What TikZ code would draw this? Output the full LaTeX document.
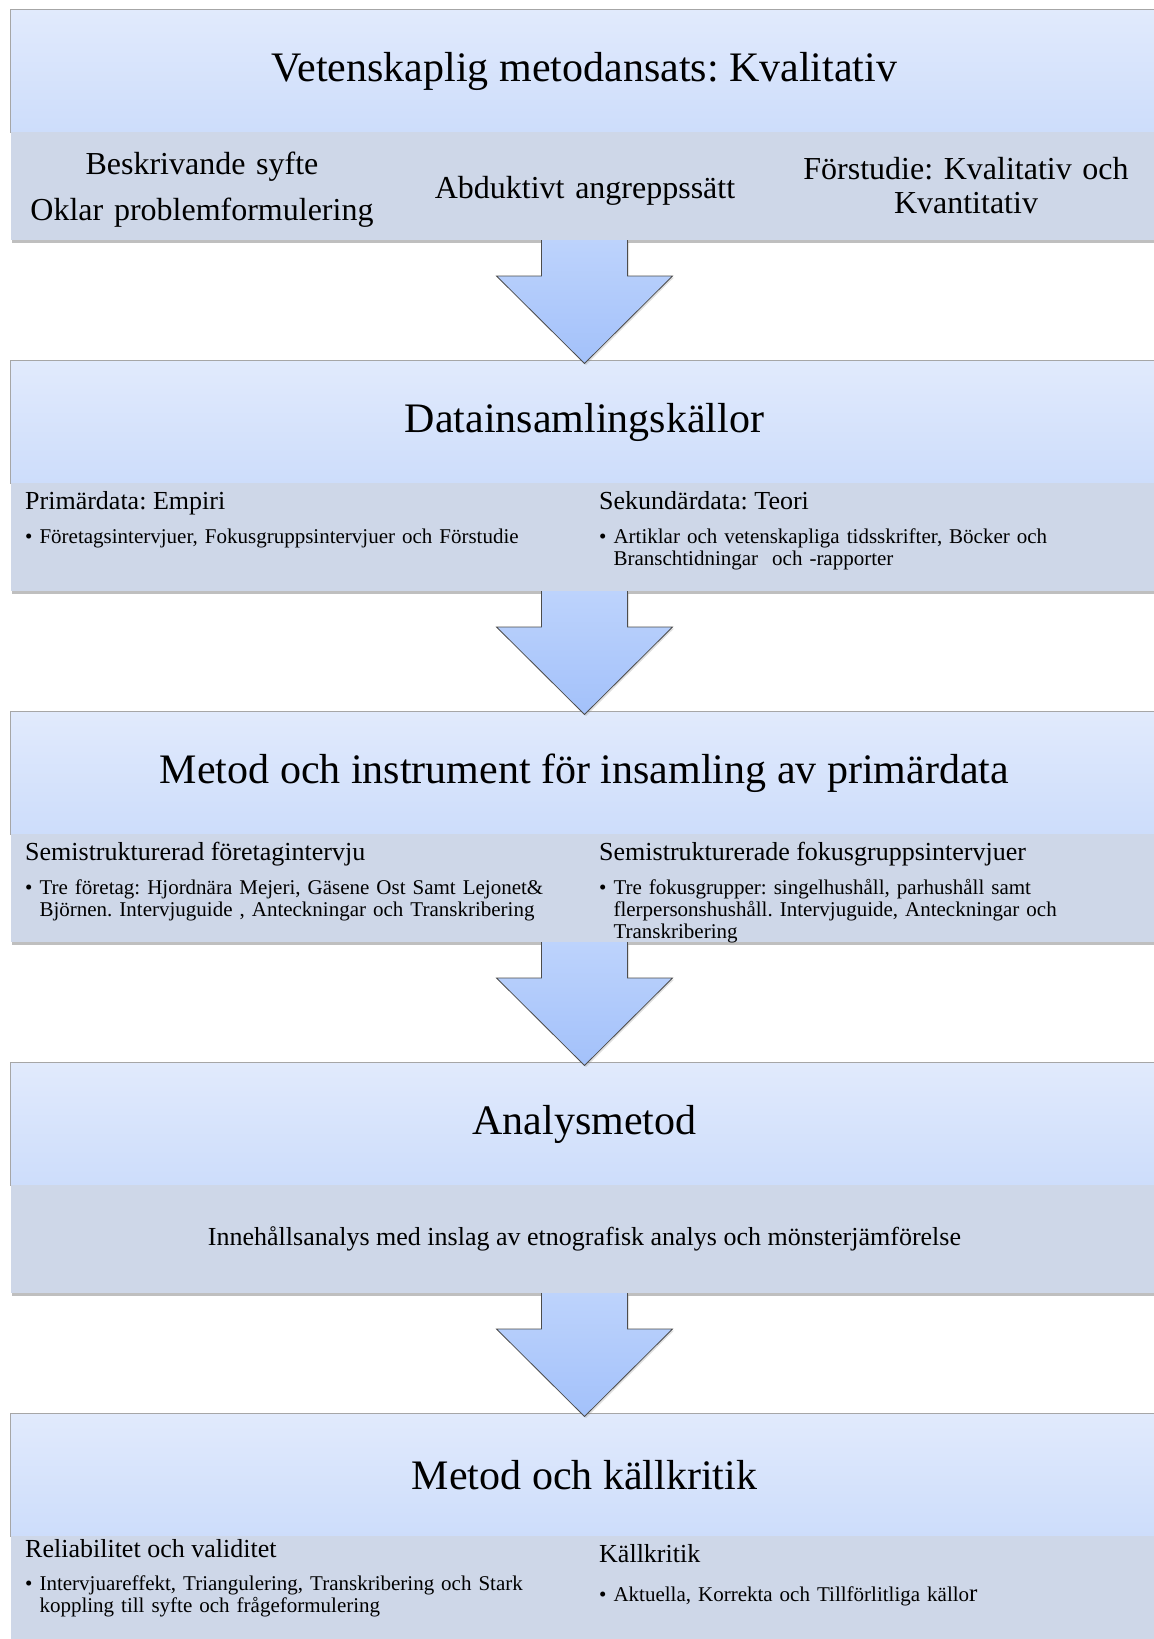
\documentclass[tikz,border=0pt]{standalone}
\usepackage{fontspec}
\setmainfont{Liberation Serif}
\usepackage{xcolor}
\usepackage{tikz}
\definecolor{headtop}{HTML}{E1EAFC}
\definecolor{headbottom}{HTML}{CDDDFB}
\definecolor{bandgray}{HTML}{CED7E8}
\definecolor{arrowtop}{HTML}{BDD3FC}
\definecolor{arrowbottom}{HTML}{A3C1FA}
\usetikzlibrary{positioning, calc, shadows}
\frenchspacing

\begin{document}
\begin{tikzpicture}[x=1pt, y=1pt,
    header/.style={draw=gray!70, top color=headtop, bottom color=headbottom, minimum width=1148pt, minimum height=123pt, inner sep=0pt, outer sep=0pt, font=\fontsize{42}{48}\selectfont},
    band/.style={fill=bandgray, minimum width=1148pt, minimum height=108pt, inner sep=0pt, outer sep=0pt, drop shadow={shadow xshift=1pt, shadow yshift=-3pt, opacity=0.5}},
    sub/.style={font=\fontsize{32}{46}\selectfont, text width=360pt, align=center, anchor=base, inner sep=0pt},
    head/.style={font=\fontsize{26}{30}\selectfont, anchor=base west, inner sep=0pt},
    item/.style={font=\fontsize{21}{22}\selectfont, text width=540pt, align=left, anchor=base west, inner sep=0pt},
    blockarrow/.style={draw=gray!60!black, line width=0.8pt, top color=arrowtop, bottom color=arrowbottom, drop shadow={shadow xshift=1.5pt, shadow yshift=-1.5pt, opacity=0.25}}
]
    \useasboundingbox (0,0) rectangle (1154,-1639);

    % Stage 1
    \node[header] (h1) at (584.5,-71) {Vetenskaplig metodansats: Kvalitativ};
    \node[band, below=-0.5pt of h1] (b1) {};
    \node[sub] (t1a) at (202,-174) {Beskrivande syfte\\Oklar problemformulering};
    \node[sub] (t1b) at (585,-198) {Abduktivt angreppssätt};
    \node[sub, font=\fontsize{32}{34}\selectfont] (t1c) at (966,-179) {Förstudie: Kvalitativ och\\Kvantitativ};

    % Stage 2
    \node[header, below=120.5pt of b1] (h2) {Datainsamlingskällor};
    \node[band, below=-0.5pt of h2] (b2) {};
    \node[head] (p2a) at (25,-509) {Primärdata: Empiri};
    \node[item] (i2a) at (25,-543) {\textbullet\ Företagsintervjuer, Fokusgruppsintervjuer och Förstudie};
    \node[head] (p2b) at (599,-509) {Sekundärdata: Teori};
    \node[item] (i2b) at (599,-543) {\textbullet\ Artiklar och vetenskapliga tidsskrifter, Böcker och\\\phantom{\textbullet\ }Branschtidningar\ \ och -rapporter};

    % Stage 3
    \node[header, below=120.5pt of b2] (h3) {Metod och instrument för insamling av primärdata};
    \node[band, below=-0.5pt of h3] (b3) {};
    \node[head] (p3a) at (25,-860) {Semistrukturerad företagintervju};
    \node[item] (i3a) at (25,-894) {\textbullet\ Tre företag: Hjordnära Mejeri, Gäsene Ost Samt Lejonet\&\\\phantom{\textbullet\ }Björnen. Intervjuguide , Anteckningar och Transkribering};
    \node[head] (p3b) at (599,-860) {Semistrukturerade fokusgruppsintervjuer};
    \node[item] (i3b) at (599,-894) {\textbullet\ Tre fokusgrupper: singelhushåll, parhushåll samt\\\phantom{\textbullet\ }flerpersonshushåll. Intervjuguide, Anteckningar och\\\phantom{\textbullet\ }Transkribering};

    % Stage 4
    \node[header, below=120.5pt of b3] (h4) {Analysmetod};
    \node[band, below=-0.5pt of h4] (b4) {};
    \node[font=\fontsize{26}{30}\selectfont] (t4) at (584.5,-1238.5) {Innehållsanalys med inslag av etnografisk analys och mönsterjämförelse};

    % Stage 5
    \node[header, below=120.5pt of b4] (h5) {Metod och källkritik};
    \node[band, below=-0.5pt of h5] (b5) {};
    \node[head] (p5a) at (25,-1557) {Reliabilitet och validitet};
    \node[item] (i5a) at (25,-1590) {\textbullet\ Intervjuareffekt, Triangulering, Transkribering och Stark\\\phantom{\textbullet\ }koppling till syfte och frågeformulering};
    \node[head] (p5b) at (599,-1562) {Källkritik};
    \node[item] (i5b) at (599,-1601) {\textbullet\ Aktuella, Korrekta och Tillförlitliga källo{\fontsize{25}{25}\selectfont r}};

    % Arrow
    \draw[blockarrow, shift={(b1.south)}] (-43,0) -- (-43,-36) -- (-88,-36) -- ([yshift=-3pt]h2.north) -- (88,-36) -- (43,-36) -- (43,0);
    % Arrow
    \draw[blockarrow, shift={(b2.south)}] (-43,0) -- (-43,-36) -- (-88,-36) -- ([yshift=-3pt]h3.north) -- (88,-36) -- (43,-36) -- (43,0);
    % Arrow
    \draw[blockarrow, shift={(b3.south)}] (-43,0) -- (-43,-36) -- (-88,-36) -- ([yshift=-3pt]h4.north) -- (88,-36) -- (43,-36) -- (43,0);
    % Arrow
    \draw[blockarrow, shift={(b4.south)}] (-43,0) -- (-43,-36) -- (-88,-36) -- ([yshift=-3pt]h5.north) -- (88,-36) -- (43,-36) -- (43,0);
\end{tikzpicture}
\end{document}
